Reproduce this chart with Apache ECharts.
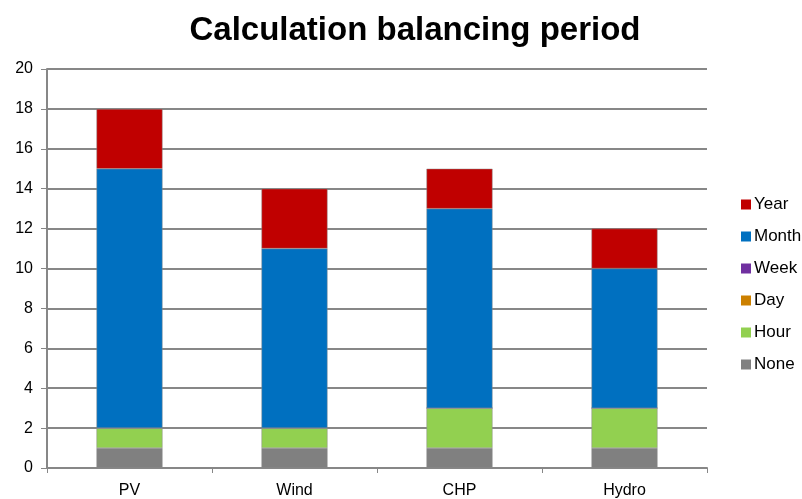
<!DOCTYPE html>
<html>
<head>
<meta charset="utf-8">
<script src="https://cdn.jsdelivr.net/npm/echarts@6/dist/echarts.min.js"></script>
<style>
  html, body { margin: 0; padding: 0; background: #fff; }
  #chart { width: 802px; height: 499px; }
</style>
</head>
<body>
<div id="chart"></div>
<script>
const categories = ['PV', 'Wind', 'CHP', 'Hydro']
const noneVals = [1, 1, 1, 1]
const hourVals = [1, 1, 2, 2]
const dayVals = [0, 0, 0, 0]
const weekVals = [0, 0, 0, 0]
const monthVals = [13, 9, 10, 7]
const yearVals = [3, 3, 2, 2]

const seriesDefs = [
  { name: 'None', data: noneVals, color: '#808080' },
  { name: 'Hour', data: hourVals, color: '#92D050' },
  { name: 'Day', data: dayVals, color: '#CC8000' },
  { name: 'Week', data: weekVals, color: '#7030A0' },
  { name: 'Month', data: monthVals, color: '#0070C0' },
  { name: 'Year', data: yearVals, color: '#C00000' },
]

const myChart = echarts.init(document.getElementById('chart'))
myChart.setOption({
  animation: false,
  title: {
    text: 'Calculation balancing period',
    left: 410,
    textAlign: 'center',
    top: 9,
    textStyle: {
      fontFamily: 'Liberation Sans',
      fontSize: 33,
      fontWeight: 'bold',
      color: '#000',
    },
  },
  legend: {
    orient: 'vertical',
    left: 736,
    top: 191,
    itemWidth: 10,
    itemHeight: 10,
    itemGap: 15,
    icon: 'rect',
    itemStyle: { borderWidth: 0 },
    data: seriesDefs.map(s => s.name).reverse(),
    textStyle: {
      fontFamily: 'Liberation Sans',
      fontSize: 17,
      color: '#000',
      padding: [0, 0, 0, -2],
    },
  },
  grid: {
    left: 47,
    right: 95,
    top: 69,
    bottom: 27,
    containLabel: false,
  },
  xAxis: {
    type: 'category',
    data: categories,
    axisLine: { show: true, lineStyle: { color: '#878787', width: 2 } },
    axisTick: { show: true, length: 5, lineStyle: { color: '#878787', width: 1 } },
    axisLabel: {
      fontFamily: 'Liberation Sans',
      fontSize: 16,
      color: '#000',
      margin: 15,
    },
  },
  yAxis: {
    type: 'value',
    min: 0,
    max: 20,
    interval: 2,
    axisLine: { show: true, lineStyle: { color: '#878787', width: 2 } },
    axisTick: { show: true, length: 6, lineStyle: { color: '#878787' } },
    axisLabel: {
      fontFamily: 'Liberation Sans',
      fontSize: 16,
      color: '#000',
      margin: 14,
    },
    splitLine: { show: true, lineStyle: { color: '#878787', width: 2 } },
  },
  series: seriesDefs.map(s => ({
    name: s.name,
    type: 'bar',
    stack: 'total',
    barWidth: '40%',
    data: s.data,
    itemStyle: {
      color: s.color,
      borderColor: '#8c8c8c',
      borderWidth: 0.5,
    },
  })),
})
</script>
</body>
</html>
